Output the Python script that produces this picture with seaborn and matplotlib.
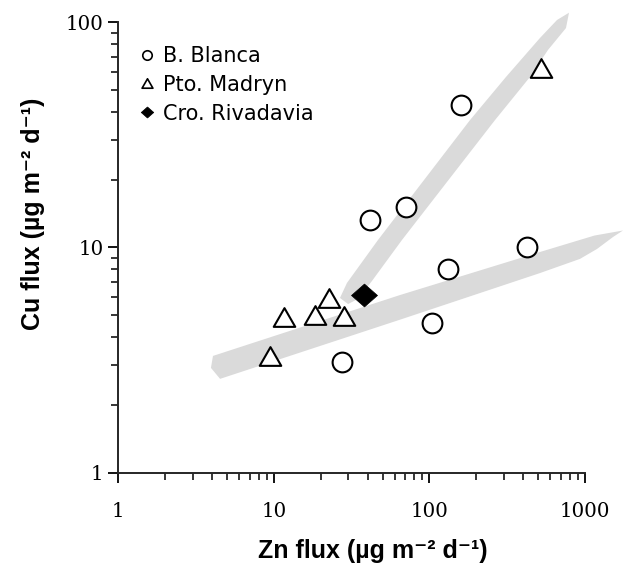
import matplotlib
matplotlib.use("Agg")
import matplotlib.pyplot as plt
from matplotlib.lines import Line2D
from matplotlib.patches import Polygon
from matplotlib.path import Path
import seaborn as sns

# Zn and Cu deposition fluxes (µg m-2 d-1) per site
bblanca_zn = [160, 71, 41.7, 424, 131, 104.5, 27.6]
bblanca_cu = [43, 15.1, 13.2, 10.1, 8.0, 4.6, 3.1]
madryn_zn = [523, 22.6, 11.6, 18.5, 28.1, 9.4]
madryn_cu = [62.4, 5.95, 4.92, 5.04, 4.96, 3.3]
rivadavia_zn = [38.2]
rivadavia_cu = [6.18]

site_names = ["B. Blanca", "Pto. Madryn", "Cro. Rivadavia"]

# Shaded trend envelopes, outline vertices as (Zn, Cu)
steep_band_zn = [26.6, 29.5, 46.7, 182.3, 310.6, 513.6, 660.7, 789,
                 754.6, 578.3, 443.1, 263.9, 66.6, 42.7, 34.7, 30.0]
steep_band_cu = [5.97, 6.96, 10.8, 36.8, 57.2, 85.2, 102.4, 110.3,
                 94.3, 75.4, 57.2, 36.8, 10.8, 7.10, 5.91, 5.61]
shallow_band_zn = [3.94, 4.06, 64.7, 513.6, 1150, 1755,
                   1513, 1194, 928.6, 513.6, 64.7, 4.51]
shallow_band_cu = [2.92, 3.30, 6.15, 9.55, 11.3, 11.9,
                   11.13, 9.85, 8.90, 7.70, 4.78, 2.61]

x_ticks = [1, 10, 100, 1000]
x_tick_labels = ["1", "10", "100", "1000"]
y_ticks = [1, 10, 100]
y_tick_labels = ["1", "10", "100"]

x_label = "Zn flux (µg m\u207b\u00b2 d\u207b\u00b9)"
y_label = "Cu flux (µg m\u207b\u00b2 d\u207b\u00b9)"

sns.set_theme(style="ticks")
plt.rcParams["font.family"] = ["DejaVu Sans"]
plt.rcParams["axes.linewidth"] = 1.4
plt.rcParams["text.color"] = "black"

DPI = 100
fig = plt.figure(figsize=(6.24, 5.65), dpi=DPI)
fig.patch.set_facecolor("white")
ax = fig.add_axes([0.1896, 0.1634, 0.7479, 0.7971])
ax.set_facecolor("white")
ax.set_xscale("log")
ax.set_yscale("log")
ax.set_xlim(1, 1000)
ax.set_ylim(1, 100)

band_color = "#dadada"
for bz, bc in ((shallow_band_zn, shallow_band_cu), (steep_band_zn, steep_band_cu)):
    ax.add_patch(Polygon(list(zip(bz, bc)), closed=True, facecolor=band_color,
                         edgecolor="none", zorder=1, clip_on=False))

tri_marker = Path([(-1, -0.87), (1, -0.87), (0, 0.87), (-1, -0.87)], closed=True)
dia_marker = Path([(1, 0), (0, 0.88), (-1, 0), (0, -0.88), (1, 0)], closed=True)

sns.scatterplot(x=bblanca_zn, y=bblanca_cu, marker="o", s=202,
                facecolor="white", edgecolor="black", linewidth=1.5,
                zorder=3, ax=ax, clip_on=False)
sns.scatterplot(x=madryn_zn, y=madryn_cu, marker=tri_marker, s=240,
                facecolor="white", edgecolor="black", linewidth=1.5,
                zorder=3, ax=ax, clip_on=False)
sns.scatterplot(x=rivadavia_zn, y=rivadavia_cu, marker=dia_marker, s=350,
                facecolor="black", edgecolor="black", linewidth=0.5,
                zorder=4, ax=ax, clip_on=False)

sns.despine(ax=ax)

ax.set_xticks(x_ticks)
ax.set_xticklabels(x_tick_labels, fontfamily="DejaVu Serif", fontsize=14.3)
ax.set_yticks(y_ticks)
ax.set_yticklabels(y_tick_labels, fontfamily="DejaVu Serif", fontsize=14.3)
ax.tick_params(which="major", direction="out", length=7, width=1.3, color="black",
               labelcolor="black")
ax.tick_params(which="minor", direction="out", length=4.8, width=1.1, color="black")
ax.tick_params(axis="x", which="major", pad=14)
ax.tick_params(axis="y", which="major", pad=3.5)
ax.tick_params(which="minor", labelbottom=False, labelleft=False)

label_family = ["Liberation Sans", "DejaVu Sans"]
ax.set_xlabel(x_label, fontsize=18, fontweight="bold", color="black",
              fontfamily=label_family)
ax.set_ylabel(y_label, fontsize=18, fontweight="bold", color="black",
              fontfamily=label_family)
ax.xaxis.set_label_coords(0.5447, -0.1738)
ax.xaxis.label.set_verticalalignment("center")
ax.yaxis.set_label_coords(-0.1828, 0.5744)
ax.yaxis.label.set_verticalalignment("center")

handles = [
    Line2D([], [], linestyle="none", marker="o", markersize=6.8,
           markerfacecolor="white", markeredgecolor="black", markeredgewidth=1.2),
    Line2D([], [], linestyle="none", marker=tri_marker, markersize=7.8,
           markerfacecolor="white", markeredgecolor="black", markeredgewidth=1.2),
    Line2D([], [], linestyle="none", marker=dia_marker, markersize=9,
           markerfacecolor="black", markeredgecolor="black", markeredgewidth=0.5),
]
ax.legend(handles, site_names, loc="upper left",
          bbox_to_anchor=(138.4 / 624, 1 - 46 / 565), bbox_transform=fig.transFigure,
          frameon=False, borderpad=0, borderaxespad=0, handlelength=0.8,
          handletextpad=0.36, labelspacing=0.42, fontsize=15, labelcolor="black")

fig.savefig("out.png", dpi=DPI, facecolor="white")
